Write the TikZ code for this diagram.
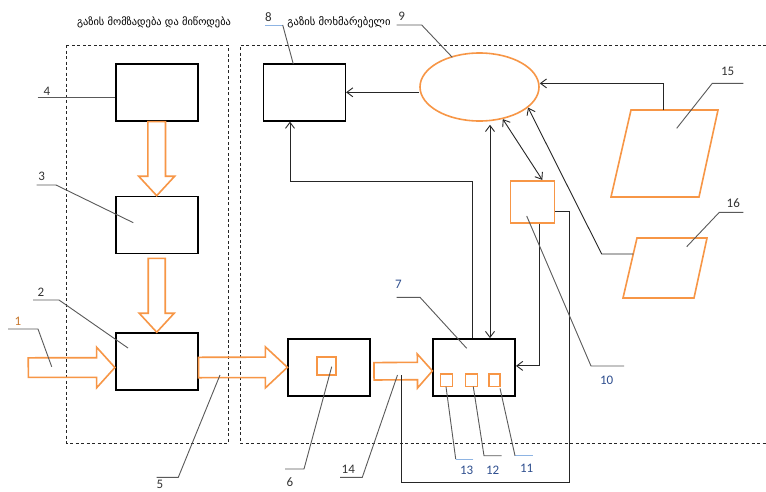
\documentclass[tikz,border=0pt]{standalone}
\usepackage{fontspec}
\setmainfont{Carlito}
\newfontfamily\geofont{DejaVu Sans}
\usepackage{tikz}
\usetikzlibrary{arrows,arrows.meta,calc,shapes.geometric}
\usepackage{color}

\definecolor{orng}{HTML}{F79646}
\definecolor{dgray}{HTML}{595959}
\definecolor{lblue}{HTML}{8EB4E3}
\definecolor{nblue}{HTML}{2F4F8F}
\definecolor{norng}{HTML}{C8782E}

% hollow block arrow: from, to, shaft half width, head half width, head length
\newcommand{\fatarrow}[5]{%
\coordinate (fh) at ($(#2)!#5!(#1)$);
\draw [fat] ($(#1)!#3!90:(#2)$) -- ($(fh)!#3!90:(#2)$) -- ($(fh)!#4!90:(#2)$) -- (#2)
  -- ($(fh)!#4!-90:(#2)$) -- ($(fh)!#3!-90:(#2)$) -- ($(#1)!#3!-90:(#2)$) -- cycle;}

\begin{document}
\begin{tikzpicture}[x=1pt,y=-1pt,>={Straight Barb[length=6pt,width=9pt]}]
\tikzstyle{every node}+=[inner sep=0pt]
\tikzstyle{blk}=[draw,line width=1.6pt,minimum width=82pt,minimum height=57pt]
\tikzstyle{obox}=[draw=orng,line width=1.6pt]
\tikzstyle{fat}=[draw=orng,line width=1.6pt,line join=miter]
\tikzstyle{conn}=[draw=black!85,line width=0.9pt]
\tikzstyle{lead}=[draw=dgray,line width=0.9pt]
\tikzstyle{num}=[font=\fontsize{13}{13}\selectfont,text=black!80]
\tikzstyle{zone}=[draw=black!85,line width=0.8pt,dash pattern=on 3pt off 2.5pt]
\useasboundingbox (0,0) rectangle (766,491);
\fill [white] (0,0) rectangle (766,491);

% zones
\draw [zone] (66.5,45) rectangle (228,443);
\draw [zone] (766,45) -- (240,45) -- (240,443) -- (766,443);
\node (z1) at (154,22) {\geofont\fontsize{10.4}{11}\selectfont გაზის მომზადება და მიწოდება};
\node (z2) at (339,22) {\geofont\fontsize{10.6}{11}\selectfont გაზის მოხმარებელი};

% boxes
\node [blk] (b4) at (156.7,92.3) {};
\node [blk] (b3) at (156.7,225) {};
\node [blk] (b2) at (156.7,361.5) {};
\node [blk] (b6) at (329.2,367.3) {};
\node [blk] (b7) at (474.2,367.4) {};
\node [blk] (b8) at (304.3,92.3) {};
\node [ellipse,obox,minimum width=119pt,minimum height=68pt] (e9) at (479.5,87) {};
\node [obox,minimum width=44pt,minimum height=42pt] (b10) at (532.5,201.7) {};
\node [obox,minimum width=18.5pt,minimum height=18pt] (s6) at (326.5,366.2) {};
\node [obox,minimum width=12pt,minimum height=12.5pt] (s13) at (446.5,380.3) {};
\node [obox,minimum width=12pt,minimum height=12.5pt] (s12) at (471.5,380.3) {};
\node [obox,minimum width=11.5pt,minimum height=12.5pt] (s11) at (494.5,380.3) {};
\draw [obox] (631,110) -- (718,110) -- (699,197) -- (611,197) -- cycle;
\coordinate (p15) at (663.3,110);
\draw [obox] (637,238) -- (707,238) -- (694,298) -- (623,298) -- cycle;
\coordinate (p16) at (633.3,254);

% gas flow
\coordinate (a1) at (28.3,367.6);
\fatarrow{b4.south}{b3.north}{8.8pt}{18pt}{19.5pt}
\fatarrow{[yshift=-4pt]b3.south}{b2.north}{8.5pt}{17.5pt}{19pt}
\fatarrow{a1}{[yshift=-6pt]b2.west}{9.8pt}{20.3pt}{18.3pt}
\fatarrow{[yshift=-6pt]b2.east}{b6.west}{10.2pt}{20.5pt}{22pt}
\fatarrow{[xshift=3pt,yshift=-4pt]b6.east}{[yshift=-3.5pt]b7.west}{8.7pt}{17pt}{15pt}

% links
\draw [conn,->] (e9.west |- b8.east) -- (b8.east);
\draw [conn,->] (p15) |- ([yshift=3.6pt]e9.east);
\coordinate (k16) at (601.7,254);
\draw [conn,->] (p16) -- (k16) -- (e9.-23);
\draw [conn,<->,shorten <=3pt] ([xshift=15.8pt]b7.north |- e9.south) -- ([xshift=15.8pt]b7.north);
\draw [conn,<->] (e9.-54) -- ([xshift=9.8pt]b10.north);
\coordinate (k78) at (472.7,181);
\draw [conn,->] (b7.north -| k78) -- (k78) -| ([xshift=-14.3pt]b8.south);
\draw [conn,->] ([xshift=6.8pt]b10.south) |- ([yshift=1.5pt]b7.east);
\coordinate (j14) at (401,375);
\coordinate (k14) at (569.3,482.3);
\draw [conn] (j14) |- (k14) |- ([yshift=-10pt]b10.east);

% numbers
\node [num,text=norng] (n1) at (18,321) {1};
\node [num] (n2) at (41,292) {2};
\node [num] (n3) at (41.7,176.7) {3};
\node [num] (n4) at (47,91) {4};
\node [num] (n5) at (160,484.5) {5};
\node [num] (n6) at (290,481.7) {6};
\node [num,text=nblue] (n7) at (398.3,284.3) {7};
\node [num] (n8) at (268.3,16.7) {8};
\node [num] (n9) at (401.7,16.7) {9};
\node [num,text=nblue] (n10) at (606.7,380) {10};
\node [num,text=nblue] (n11) at (526.7,468.3) {11};
\node [num,text=nblue] (n12) at (492.7,470) {12};
\node [num,text=nblue] (n13) at (466.7,470) {13};
\node [num] (n14) at (348.3,469) {14};
\node [num] (n15) at (727.7,71.7) {15};
\node [num] (n16) at (733.3,203.3) {16};

% leaders
\path (8,329) coordinate (u1) (38,329) coordinate (w1) (51.7,366.7) coordinate (t1);
\draw [lead] (u1) -- (w1) -- (t1);
\path (33,300) coordinate (u2) (59,300) coordinate (w2) (128,348) coordinate (t2);
\draw [lead] (u2) -- (w2) -- (t2);
\path (36.7,185) coordinate (u3) (56,185) coordinate (w3) (133.3,222.7) coordinate (t3);
\draw [lead] (u3) -- (w3) -- (t3);
\path (37.7,97.7) coordinate (u4);
\draw [lead] (u4) -- (u4 -| b4.west);
\path (156.7,477.3) coordinate (u5) (178.3,477.3) coordinate (w5) (220,375) coordinate (t5);
\draw [lead] (u5) -- (w5) -- (t5);
\path (285,469) coordinate (u6) (304,469) coordinate (w6) (331.7,366.7) coordinate (t6);
\draw [lead] (u6) -- (w6) -- (t6);
\path (396.7,297.3) coordinate (u7) (420,297.3) coordinate (w7) (466.7,348.3) coordinate (t7);
\draw [lead] (u7) -- (w7) -- (t7);
\path (265,25) coordinate (u8) (282.7,25) coordinate (w8) (293.3,64) coordinate (t8);
\draw [lead,draw=lblue] (u8) -- (w8);
\draw [lead] (w8) -- (t8);
\path (396.7,25) coordinate (u9) (421.7,25) coordinate (w9) (452.3,57.3) coordinate (t9);
\draw [lead] (u9) -- (w9) -- (t9);
\path (624,366) coordinate (u10) (591,366) coordinate (w10) (526.7,216) coordinate (t10);
\draw [lead] (u10) -- (w10) -- (t10);
\path (532.7,455.7) coordinate (u11) (515,455.7) coordinate (w11) (500,388.3) coordinate (t11);
\draw [lead,draw=lblue] (u11) -- (w11);
\draw [lead] (w11) -- (t11);
\path (501.7,455.7) coordinate (u12) (484,455.7) coordinate (w12) (473.3,386.7) coordinate (t12);
\draw [lead] (u12) -- (w12) -- (t12);
\path (473.3,459) coordinate (u13) (455.7,459) coordinate (w13) (446,386.7) coordinate (t13);
\draw [lead,draw=lblue] (u13) -- (w13);
\draw [lead] (w13) -- (t13);
\path (340,477.3) coordinate (u14) (362.3,477.3) coordinate (w14) (397.5,375) coordinate (t14);
\draw [lead] (u14) -- (w14) -- (t14);
\path (743.3,83.3) coordinate (u15) (712.3,83.3) coordinate (w15) (676.7,128.3) coordinate (t15);
\draw [lead] (u15) -- (w15) -- (t15);
\path (743.3,212.3) coordinate (u16) (719.3,212.3) coordinate (w16) (686.7,246.7) coordinate (t16);
\draw [lead] (u16) -- (w16) -- (t16);
\end{tikzpicture}
\end{document}
